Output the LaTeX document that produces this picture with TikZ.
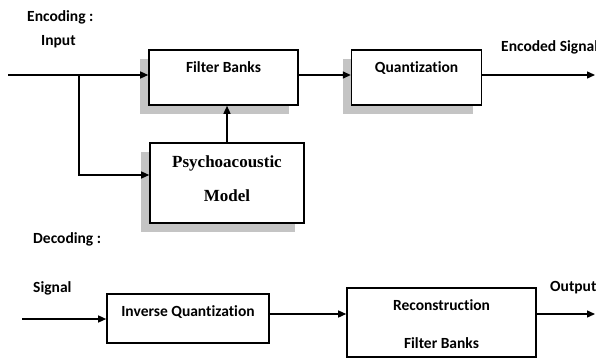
\documentclass[tikz,border=0pt]{standalone}
\usepackage{fontspec}
\newfontfamily\calibfont[Ligatures={NoCommon,NoRare}]{Carlito}
\newfontfamily\timesfont{Liberation Serif}
\usetikzlibrary{arrows.meta,positioning,shadows}
\tikzset{
    %Define standard arrow tip
    >={Triangle[length=8pt,width=7pt]},
    %Define style for boxes
    block/.style={
           rectangle,
           draw=black, line width=1.6pt,
           fill=white,
           inner sep=0pt,
           font=\calibfont\bfseries\fontsize{15.5}{19}\selectfont,
           text centered},
    shadowed/.style={
           block,
           drop shadow={shadow xshift=-9pt, shadow yshift=-9pt, fill=black!23, opacity=1}},
    oneline/.style={
           text height=11pt,
           text depth=#1},
    lbl/.style={
           anchor=west,
           inner sep=0pt,
           font=\calibfont\bfseries\fontsize{15.5}{19}\selectfont},
    % Define arrow style
    pil/.style={
           ->,
           line width=1.4pt}
}
\begin{document}
\begin{tikzpicture}[x=1pt,y=-1pt,node distance=52pt]
\useasboundingbox (0,0) rectangle (596,358);
 %labels
\node[lbl] (enc) at (27,17) {Encoding :};
\node[lbl] (inp) at (41,42) {Input};
\node[lbl] (encsig) at (501,47) {Encoded Signal};
\node[lbl] (dec) at (33,239) {Decoding :};
\node[lbl] (sig) at (33,288) {Signal};
\node[lbl] (outp) at (550,288) {Output};
 %blocks
\node[shadowed, oneline=20pt, minimum width=149pt, minimum height=55pt] (fb) at (223.5,77.5) {Filter Banks};
\node[shadowed, oneline=20pt, minimum width=130pt, minimum height=55pt, right=of fb] (qt) {Quantization};
\node[shadowed, align=center, minimum width=154pt, minimum height=80pt, font=\timesfont\bfseries\fontsize{17}{20}\selectfont] (psy) at (227,183) {Psychoacoustic\\[14pt]Model\rule[-8pt]{0pt}{8pt}};
\node[block, oneline=16pt, minimum width=162pt, minimum height=49pt] (iq) at (188,318.5) {Inverse Quantization};
\node[block, align=center, minimum width=189pt, minimum height=69pt] (rec) at (441.5,322.5) {\rule{0pt}{15pt}Reconstruction\\[19pt]Filter Banks};
 %ends
\coordinate (in) at (8,75);
\coordinate (br) at (79,75);
\coordinate (psyin) at (79,175);
\coordinate (encout) at (595,75);
\coordinate (decin) at (22,319);
\coordinate (mid) at (300,314);
\coordinate (decout) at (595,314);
 %connectors
\draw[pil] (in) -- (in -| fb.west);
\draw[pil] (br) -- (psyin) -- (psyin -| psy.west);
\draw[pil] (psy.north) -- (psy.north |- fb.south);
\draw[pil] (in -| fb.east) -- (in -| qt.west);
\draw[pil] (in -| qt.east) -- (encout);
\draw[pil] (decin) -- (decin -| iq.west);
\draw[pil] (mid -| iq.east) -- (mid -| rec.west);
\draw[pil] (decout -| rec.east) -- (decout);
\end{tikzpicture}
\end{document}
